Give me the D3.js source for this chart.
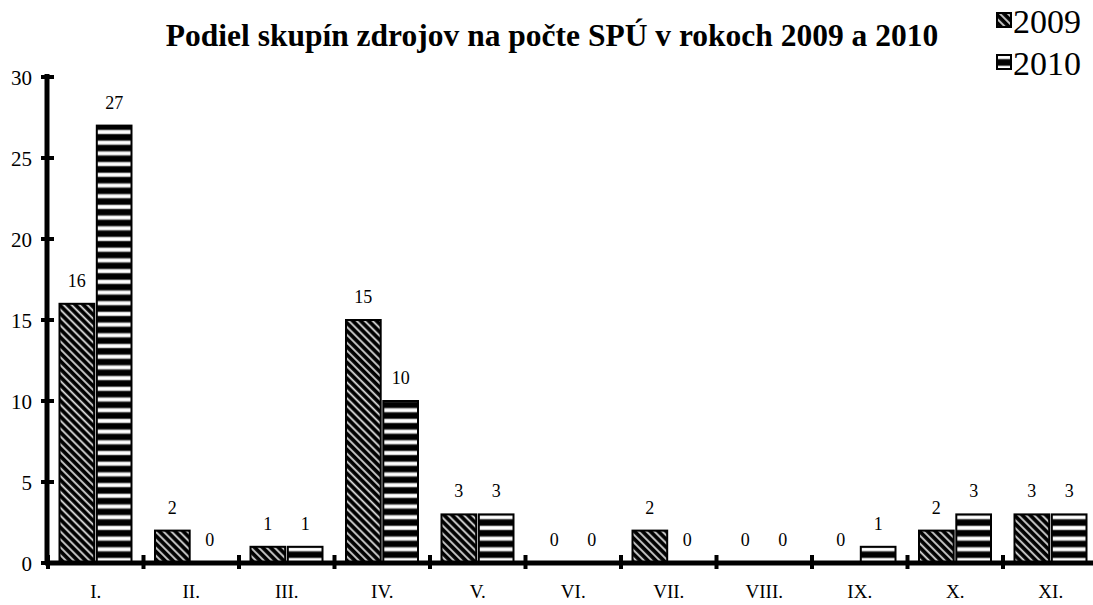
<!DOCTYPE html>
<html><head><meta charset="utf-8">
<script src="https://cdn.jsdelivr.net/npm/d3@7"></script>
<style>body{margin:0;background:#fff}svg{display:block}</style>
</head><body>
<svg id="c" width="1093" height="605" style="font-family:'Liberation Serif','Times New Roman',Tinos,'DejaVu Serif',serif"></svg>
<script>
const categories = ["I.","II.","III.","IV.","V.","VI.","VII.","VIII.","IX.","X.","XI."];
const series = ["2009","2010"];
const values2009 = [16,2,1,15,3,0,2,0,0,2,3];
const values2010 = [27,0,1,10,3,0,0,0,1,3,3];
const yTicks = [0,5,10,15,20,25,30];
const title = "Podiel skupín zdrojov na počte SPÚ v rokoch 2009 a 2010";
const FONT = "'Liberation Serif','Times New Roman',Tinos,'DejaVu Serif',serif";

const svg = d3.select("#c");
const defs = svg.append("defs");
// diagonal hatch
const p1 = defs.append("pattern").attr("id","p2009").attr("patternUnits","userSpaceOnUse")
  .attr("width",5.6).attr("height",5.6).attr("patternTransform","rotate(-45)");
p1.append("rect").attr("width",5.6).attr("height",5.6).attr("fill","#000");
p1.append("rect").attr("x",2).attr("width",2).attr("height",5.6).attr("fill","#999");
p1.append("rect").attr("x",2.5).attr("width",1).attr("height",5.6).attr("fill","#eee");
// horizontal stripes
const p2 = defs.append("pattern").attr("id","p2010").attr("patternUnits","userSpaceOnUse")
  .attr("width",10).attr("height",10.7).attr("y",563);
p2.append("rect").attr("width",10).attr("height",10.7).attr("fill","#000");
p2.append("rect").attr("y",5.4).attr("width",10).attr("height",4.6).attr("fill","#aaa");
p2.append("rect").attr("y",6.2).attr("width",10).attr("height",3).attr("fill","#fff");

const x0 = d3.scaleBand().domain(categories).range([48, 48 + 11*95.5]);
const x1 = d3.scaleBand().domain(series).range([11.5, 83.5]).paddingInner(0.07);
const y = d3.scaleLinear().domain([0,30]).range([563,77]);

const data = categories.map((c,i)=>({c, v:[values2009[i], values2010[i]]}));

// bars
const g = svg.append("g");
data.forEach(d=>{
  series.forEach((s,j)=>{
    const v = d.v[j];
    const bx = x0(d.c) + x1(s);
    if (v > 0) {
      g.append("rect").attr("x",bx).attr("y",y(v)).attr("width",x1.bandwidth()).attr("height",y(0)-y(v))
        .attr("fill",`url(#p${s})`).attr("stroke","#000").attr("stroke-width",2);
    }
    g.append("text").attr("x",bx + x1.bandwidth()/2).attr("y",y(v)-17).attr("text-anchor","middle")
      .style("font-family",FONT).attr("font-size",18).text(v);
  });
});

// y axis
const yAxis = d3.axisLeft(y).tickValues(yTicks).tickSize(0).tickPadding(0);
const ya = svg.append("g").attr("transform","translate(47,0)").call(yAxis);
ya.select(".domain").remove();
ya.selectAll("text").attr("x",-15).attr("dy","0.35em").style("font-family",FONT).style("font-size","21px");
svg.append("line").attr("x1",47).attr("x2",47).attr("y1",y(30)-3).attr("y2",y(0)+2).attr("stroke","#000").attr("stroke-width",5);
yTicks.forEach(t=>{
  svg.append("line").attr("x1",41).attr("x2",54).attr("y1",y(t)).attr("y2",y(t)).attr("stroke","#000").attr("stroke-width",4);
});

// x axis
svg.append("line").attr("x1",45).attr("x2",1093).attr("y1",y(0)).attr("y2",y(0)).attr("stroke","#000").attr("stroke-width",5);
const xa = svg.append("g").attr("transform",`translate(0,${y(0)})`)
  .call(d3.axisBottom(x0).tickSize(0).tickPadding(0));
xa.select(".domain").remove();
xa.selectAll("text").attr("y",35).attr("dy",0).style("font-family",FONT).style("font-size","19px");
categories.forEach((c,i)=>{
  const tx = x0(c);
  svg.append("line").attr("x1",tx).attr("x2",tx).attr("y1",y(0)-8).attr("y2",y(0)+6).attr("stroke","#000").attr("stroke-width",4);
});

// title
svg.append("text").attr("x",552).attr("y",46).attr("text-anchor","middle").attr("font-weight","bold")
  .style("font-family",FONT).style("font-size","31.5px").text(title);

// legend
const leg = svg.append("g");
series.forEach((s,i)=>{
  const ly = 13 + i*42;
  leg.append("rect").attr("x",997).attr("y",ly).attr("width",14).attr("height",14)
    .attr("fill",`url(#p${s})`).attr("stroke","#000").attr("stroke-width",2);
  leg.append("text").attr("x",1013).attr("y",ly+20).style("font-family",FONT).style("font-size","34px").text(s);
});
</script>
</body></html>
